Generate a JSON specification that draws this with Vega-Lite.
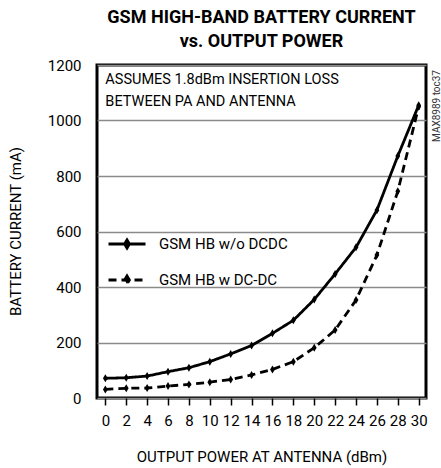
{
  "$schema": "https://vega.github.io/schema/vega-lite/v6.json",
  "width": 329,
  "height": 333,
  "autosize": {"type": "none"},
  "padding": {"left": 97, "top": 65, "right": 15, "bottom": 70},
  "background": "white",
  "config": {
    "font": "Roboto, Liberation Sans, sans-serif",
    "view": {"stroke": "black", "strokeWidth": 3},
    "axis": {"labelColor": "black", "titleColor": "black", "titleFontWeight": "normal"}
  },
  "title": {
    "text": ["GSM HIGH-BAND BATTERY CURRENT", "vs. OUTPUT POWER"],
    "anchor": "middle",
    "frame": "group",
    "fontSize": 18,
    "fontWeight": "bold",
    "lineHeight": 24,
    "offset": 7,
    "color": "black"
  },
  "data": {
    "values": [
      {"x": 0, "y": 71, "series": "GSM HB w/o DCDC"},
      {"x": 2, "y": 73, "series": "GSM HB w/o DCDC"},
      {"x": 4, "y": 79, "series": "GSM HB w/o DCDC"},
      {"x": 6, "y": 95, "series": "GSM HB w/o DCDC"},
      {"x": 8, "y": 109, "series": "GSM HB w/o DCDC"},
      {"x": 10, "y": 131, "series": "GSM HB w/o DCDC"},
      {"x": 12, "y": 159, "series": "GSM HB w/o DCDC"},
      {"x": 14, "y": 189, "series": "GSM HB w/o DCDC"},
      {"x": 16, "y": 233, "series": "GSM HB w/o DCDC"},
      {"x": 18, "y": 280, "series": "GSM HB w/o DCDC"},
      {"x": 20, "y": 355, "series": "GSM HB w/o DCDC"},
      {"x": 22, "y": 447, "series": "GSM HB w/o DCDC"},
      {"x": 24, "y": 543, "series": "GSM HB w/o DCDC"},
      {"x": 26, "y": 677, "series": "GSM HB w/o DCDC"},
      {"x": 28, "y": 872, "series": "GSM HB w/o DCDC"},
      {"x": 30, "y": 1055, "series": "GSM HB w/o DCDC"},
      {"x": 0, "y": 31, "series": "GSM HB w DC-DC"},
      {"x": 2, "y": 35, "series": "GSM HB w DC-DC"},
      {"x": 4, "y": 36, "series": "GSM HB w DC-DC"},
      {"x": 6, "y": 43, "series": "GSM HB w DC-DC"},
      {"x": 8, "y": 49, "series": "GSM HB w DC-DC"},
      {"x": 10, "y": 57, "series": "GSM HB w DC-DC"},
      {"x": 12, "y": 67, "series": "GSM HB w DC-DC"},
      {"x": 14, "y": 83, "series": "GSM HB w DC-DC"},
      {"x": 16, "y": 103, "series": "GSM HB w DC-DC"},
      {"x": 18, "y": 131, "series": "GSM HB w DC-DC"},
      {"x": 20, "y": 181, "series": "GSM HB w DC-DC"},
      {"x": 22, "y": 245, "series": "GSM HB w DC-DC"},
      {"x": 24, "y": 353, "series": "GSM HB w DC-DC"},
      {"x": 26, "y": 515, "series": "GSM HB w DC-DC"},
      {"x": 28, "y": 745, "series": "GSM HB w DC-DC"},
      {"x": 30, "y": 1050, "series": "GSM HB w DC-DC"}
    ]
  },
  "encoding": {
    "x": {
      "field": "x",
      "type": "quantitative",
      "scale": {"domain": [-0.8, 30.7], "nice": false, "zero": false},
      "axis": {
        "title": "OUTPUT POWER AT ANTENNA (dBm)",
        "values": [0, 2, 4, 6, 8, 10, 12, 14, 16, 18, 20, 22, 24, 26, 28, 30],
        "grid": false,
        "domain": false,
        "ticks": true,
        "tickSize": 7,
        "tickColor": "black",
        "tickWidth": 1.5,
        "labelFontSize": 15,
        "labelBaseline": "alphabetic",
        "labelPadding": 20,
        "labelFlush": false,
        "labelOverlap": false,
        "titleFontSize": 15,
        "titleBaseline": "alphabetic",
        "titleY": 63
      }
    },
    "y": {
      "field": "y",
      "type": "quantitative",
      "scale": {"domain": [0, 1200], "nice": false},
      "axis": {
        "title": "BATTERY CURRENT (mA)",
        "values": [0, 200, 400, 600, 800, 1000, 1200],
        "format": "d",
        "grid": true,
        "gridColor": "#8a8a8a",
        "gridWidth": 1.5,
        "gridOpacity": 1,
        "domain": false,
        "ticks": false,
        "labelFontSize": 15,
        "labelPadding": 16,
        "titleFontSize": 15,
        "titleX": -82,
        "titleY": 166,
        "titleAlign": "center",
        "titleBaseline": "middle"
      }
    }
  },
  "layer": [
    {
      "mark": {"type": "line", "color": "black", "strokeWidth": 2.8},
      "encoding": {
        "strokeDash": {
          "field": "series",
          "type": "nominal",
          "scale": {
            "domain": ["GSM HB w/o DCDC", "GSM HB w DC-DC"],
            "range": [[1, 0], [8, 5]]
          },
          "legend": {
            "title": null,
            "orient": "none",
            "legendX": 10,
            "legendY": 159,
            "symbolType": "M-1,0H1M0,-0.22L0.13,0L0,0.22L-0.13,0Z",
            "symbolSize": 1369,
            "symbolStrokeWidth": 2.8,
            "symbolStrokeColor": "black",
            "symbolFillColor": "black",
            "labelFontSize": 15,
            "labelColor": "black",
            "labelOffset": 12,
            "rowPadding": 6
          }
        }
      }
    },
    {
      "mark": {"type": "point", "shape": "M0,-1L0.6,0L0,1L-0.6,0Z", "filled": true, "color": "black", "size": 64, "opacity": 1},
      "encoding": {
        "detail": {"field": "series"}
      }
    },
    {
      "transform": [{"filter": "datum.x == 0 && datum.series == 'GSM HB w/o DCDC'"}],
      "mark": {"type": "text", "align": "left", "baseline": "top", "fontSize": 14.5, "lineHeight": 22, "color": "black"},
      "encoding": {
        "x": {"datum": 0, "type": "quantitative"},
        "y": {"datum": 1172, "type": "quantitative"},
        "text": {"value": ["ASSUMES 1.8dBm INSERTION LOSS", "BETWEEN PA AND ANTENNA"]}
      }
    },
    {
      "transform": [{"filter": "datum.x == 0 && datum.series == 'GSM HB w/o DCDC'"}],
      "mark": {"type": "text", "align": "right", "baseline": "middle", "angle": 270, "fontSize": 10, "color": "#333333"},
      "encoding": {
        "x": {"datum": 31.8, "type": "quantitative"},
        "y": {"datum": 1182, "type": "quantitative"},
        "text": {"value": "MAX8989 toc37"}
      }
    }
  ]
}
